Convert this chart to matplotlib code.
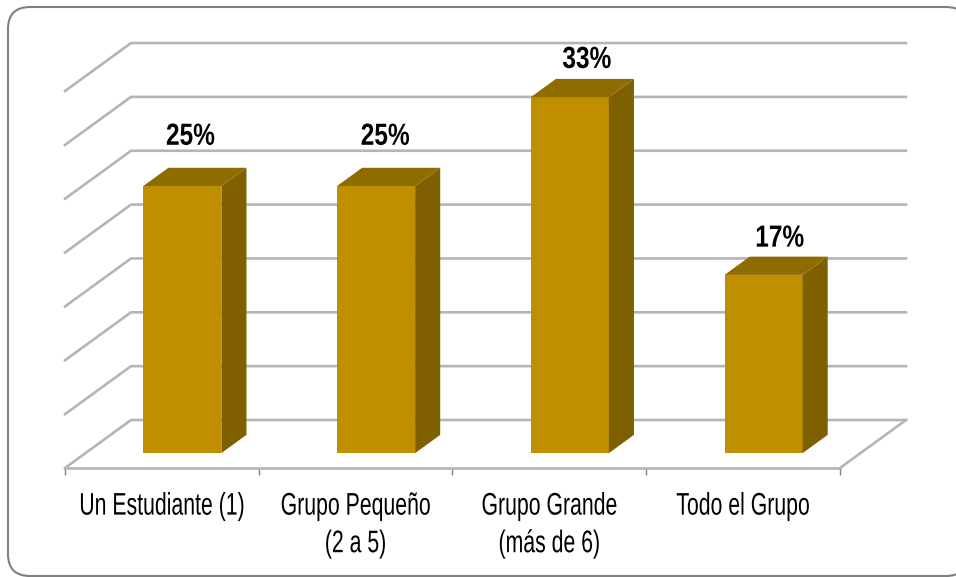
import matplotlib
matplotlib.use('Agg')
import matplotlib.pyplot as plt
from matplotlib.patches import FancyBboxPatch
from matplotlib.patheffects import AbstractPathEffect
from matplotlib.transforms import Affine2D

# --- data ---
categories = ['Un Estudiante (1)', 'Grupo Pequeño\n(2 a 5)', 'Grupo Grande\n(más de 6)', 'Todo el Grupo']
values = [24.8, 24.8, 33.05, 16.55]
value_labels = ['25%', '25%', '33%', '17%']
grid_values = [0, 5, 10, 15, 20, 25, 30, 35]

# --- layout, pixels per unit ---
W, H = 956, 577
PX_X = 193.75   # one category
PX_Y = 10.77    # one percent
X0, Y0 = 65, 468  # where 0 sits on the front edge of the floor
DX = 66 / PX_X  # full depth of the 3d box
DY = 48 / PX_Y
BAR_W = 0.403
D_FRONT, D_BACK = 0.31, 0.69
label_lift = [31, 31, 19, 18]  # px above the back of the bar top
label_shift = [8, 9, 17, 16]   # px right of the bar's front centre

FRONT = '#bf8f00'
SIDE = '#7f6000'
TOP = '#8f6c00'
GRID = '#b5b5b5'


# no condensed font installed, so squeeze each text line about its centre
class Squeeze(AbstractPathEffect):
    def __init__(self, sx):
        super().__init__()
        self.sx = sx

    def draw_path(self, renderer, gc, tpath, affine, rgbFace=None):
        ext = tpath.get_extents()
        cx = (ext.x0 + ext.x1) / 2
        squeeze = Affine2D().translate(-cx, 0).scale(self.sx, 1).translate(cx, 0)
        renderer.draw_path(gc, tpath, squeeze + affine, rgbFace)


plt.rcParams['font.family'] = ['Liberation Sans', 'DejaVu Sans']

fig = plt.figure(figsize=(W / 100, H / 100), dpi=100)

# rounded frame, in pixels (origin at the bottom)
frame = FancyBboxPatch((8, 1), 960, 569, boxstyle='round,pad=0,rounding_size=22',
                       transform=None, fc='white', ec='#808080', lw=1.5, zorder=0)
fig.add_artist(frame)

ax = fig.add_axes([0, 0, 1, 1], zorder=2)
ax.set_xlim(-X0 / PX_X, (W - X0) / PX_X)
ax.set_ylim((Y0 - H) / PX_Y, Y0 / PX_Y)
ax.patch.set_visible(False)

# walls
n = len(categories)
for g in grid_values:
    ax.plot([0, DX, n + DX], [g, g + DY, g + DY], color=GRID, lw=1.9,
            solid_joinstyle='round', zorder=1)
ax.plot([n, n + DX], [0, DY], color=GRID, lw=1.9, zorder=1)

# floor front edge and ticks
for s in ['top', 'left', 'right']:
    ax.spines[s].set_visible(False)
ax.spines['bottom'].set_position(('data', 0))
ax.spines['bottom'].set_bounds(0, n)
ax.spines['bottom'].set_color(GRID)
ax.spines['bottom'].set_linewidth(1.9)
ax.set_xticks(range(n + 1))
ax.set_xticklabels([])
ax.tick_params(axis='x', length=5, width=1, color='#808080', direction='out')
ax.set_yticks([])

# bars
for i, v in enumerate(values):
    c = i + 0.5 + D_FRONT * DX
    l, r = c - BAR_W / 2, c + BAR_W / 2
    y0 = D_FRONT * DY
    d = (D_BACK - D_FRONT)
    ax.bar(c, v, BAR_W, bottom=y0, color=FRONT, zorder=3)
    ax.fill([r, r + d * DX, r + d * DX, r],
            [y0, y0 + d * DY, y0 + v + d * DY, y0 + v], color=SIDE, lw=0, zorder=3)
    ax.fill([l, l + d * DX, r + d * DX, r],
            [y0 + v, y0 + v + d * DY, y0 + v + d * DY, y0 + v], color=TOP, lw=0, zorder=3)
    ax.annotate(value_labels[i], (c, y0 + v + d * DY),
                xytext=(label_shift[i] * 0.72, label_lift[i] * 0.72),
                textcoords='offset points', ha='center', va='center',
                fontsize=22, fontweight='bold', color='black', zorder=4,
                path_effects=[Squeeze(0.8)])

# category labels, first line lined up on all of them
for i, name in enumerate(categories):
    ax.annotate(name, (i + 0.5, 0), xytext=(0, -17), textcoords='offset points',
                ha='center', va='top', fontsize=22.5, linespacing=1.33, color='black',
                path_effects=[Squeeze(0.68)])

fig.savefig('out.png', dpi=100)
